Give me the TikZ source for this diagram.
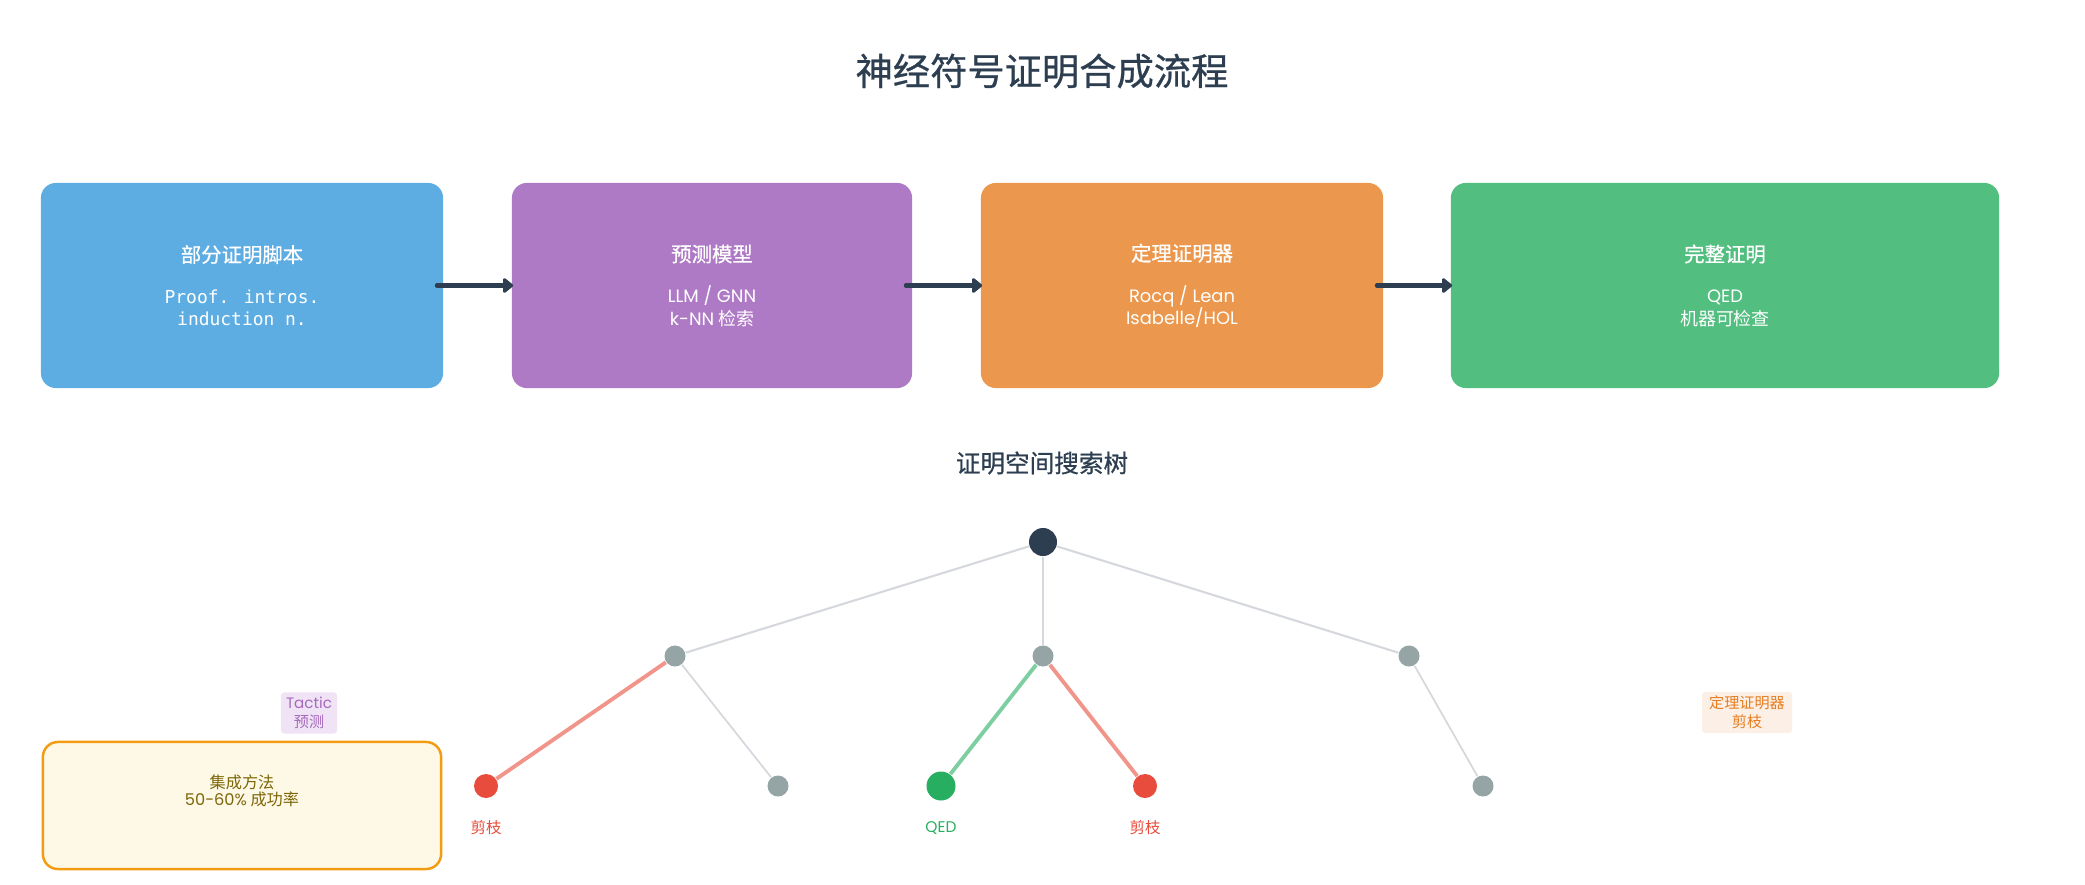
\documentclass[tikz,border=0pt]{standalone}
\usepackage{fontspec}
\setmainfont{Noto Sans CJK SC}
\newfontfamily\semifont{Noto Sans CJK SC}[FakeBold=0.7]
\newfontfamily\codefont{DejaVu Sans Mono}
\newfontfamily\latfont{Poppins}
\usetikzlibrary{arrows.meta}

\definecolor{ink}{HTML}{2C3E50}
\definecolor{scriptblue}{HTML}{5DADE2}
\definecolor{modelpurple}{HTML}{AF7AC5}
\definecolor{proverorange}{HTML}{EB984E}
\definecolor{qedgreen}{HTML}{52BE80}
\definecolor{nodegrey}{HTML}{95A5A6}
\definecolor{edgegrey}{HTML}{D5D8DC}
\definecolor{cutred}{HTML}{E74C3C}
\definecolor{cutedge}{HTML}{F1948A}
\definecolor{okgreen}{HTML}{27AE60}
\definecolor{okedge}{HTML}{7DCEA0}
\definecolor{notefill}{HTML}{FEF9E7}
\definecolor{noteline}{HTML}{F39C12}
\definecolor{notetext}{HTML}{7D6608}
\definecolor{tagpurple}{HTML}{F0E3F5}
\definecolor{tagpurpletext}{HTML}{A569BD}
\definecolor{tagorange}{HTML}{FCEFE6}
\definecolor{tagorangetext}{HTML}{E67E22}

\newcommand{\stagehead}{\fontsize{5.8}{6.3}\semifont\selectfont}

\tikzset{
  stage/.style={rounded corners=0.15cm, minimum height=2.05cm, inner sep=0pt,
    text=white, align=center, font=\fontsize{5.1}{6.3}\selectfont},
  flow/.style={-{Triangle[round, length=0.11cm, width=0.17cm]}, line width=1.15pt,
    line cap=round, draw=ink},
  tnode/.style={circle, inner sep=0pt},
  tedge/.style={draw=edgegrey, line width=0.5pt},
  tag/.style={rounded corners=0.03cm, inner sep=0pt, minimum height=0.41cm,
    align=center, font=\fontsize{4.3}{5.4}\selectfont}
}

\begin{document}
\begin{tikzpicture}[x=0.01cm,y=-0.01cm]
  \useasboundingbox (0,0) rectangle (2085,885);

  %Title
  \node[text=ink, font=\fontsize{10.6}{12}\semifont\selectfont] (title) at (1042,71) {神经符号证明合成流程};

  %Pipeline stages
  \node[stage, fill=scriptblue, minimum width=4.02cm] (script) at (242,285.5)
    {{\stagehead 部分证明脚本}\\[5.4pt]{\codefont Proof. intros.}\\{\codefont induction n.}};
  \node[stage, fill=modelpurple, minimum width=4.00cm] (model) at (712,285.5)
    {{\stagehead 预测模型}\\[5.4pt]{\latfont LLM / GNN}\\{\latfont k-NN} 检索};
  \node[stage, fill=proverorange, minimum width=4.02cm] (prover) at (1182,285.5)
    {{\stagehead 定理证明器}\\[5.4pt]{\latfont Rocq / Lean}\\{\latfont Isabelle/HOL}};
  \node[stage, fill=qedgreen, minimum width=5.48cm] (proof) at (1725,285.5)
    {{\stagehead 完整证明}\\[5.4pt]{\latfont QED}\\机器可检查};

  %Arrows between stages
  \draw[flow] ([xshift=-0.07cm]script.east) -- ([xshift=0.02cm]model.west);
  \draw[flow] ([xshift=-0.07cm]model.east) -- ([xshift=0.02cm]prover.west);
  \draw[flow] ([xshift=-0.07cm]prover.east) -- ([xshift=0.02cm]proof.west);

  %Search tree
  \node[text=ink, font=\fontsize{7}{8}\semifont\selectfont] (treetitle) at (1042,463) {证明空间搜索树};

  \node[tnode, fill=ink, minimum size=0.28cm] (root) at (1043,542) {};
  \node[tnode, fill=nodegrey, minimum size=0.21cm] (left) at (675,656) {};
  \node[tnode, fill=nodegrey, minimum size=0.21cm] (mid) at (1043,656) {};
  \node[tnode, fill=nodegrey, minimum size=0.21cm] (right) at (1409,656) {};
  \node[tnode, fill=cutred, minimum size=0.24cm] (cutA) at (486,786) {};
  \node[tnode, fill=nodegrey, minimum size=0.21cm] (openA) at (778,786) {};
  \node[tnode, fill=okgreen, minimum size=0.29cm] (qed) at (941,786) {};
  \node[tnode, fill=cutred, minimum size=0.24cm] (cutB) at (1145,786) {};
  \node[tnode, fill=nodegrey, minimum size=0.21cm] (openB) at (1483,786) {};

  \draw[tedge, line width=0.6pt] (root) -- (left);
  \draw[tedge, line width=0.3pt] (root) -- (mid);
  \draw[tedge, line width=0.6pt] (root) -- (right);
  \draw[draw=cutedge, line width=1.1pt] (left) -- (cutA);
  \draw[tedge] (left) -- (openA);
  \draw[draw=okedge, line width=1.1pt] (mid) -- (qed);
  \draw[draw=cutedge, line width=1.1pt] (mid) -- (cutB);
  \draw[tedge] (right) -- (openB);

  %Leaf labels
  \node[text=cutred, font=\fontsize{4.4}{5}\selectfont] (cutAlabel) at (486,828) {剪枝};
  \node[text=okgreen, font=\fontsize{4.4}{5}\selectfont\latfont] (qedlabel) at (941,828) {QED};
  \node[text=cutred, font=\fontsize{4.4}{5}\selectfont] (cutBlabel) at (1145,828) {剪枝};

  %Side notes
  \node[tag, fill=tagpurple, text=tagpurpletext, minimum width=0.56cm] (tactic) at (309,713)
    {{\latfont Tactic}\\预测};
  \node[tag, fill=tagorange, text=tagorangetext, minimum width=0.90cm] (pruning) at (1747,712.5)
    {定理证明器\\剪枝};

  \node[draw=noteline, fill=notefill, line width=0.7pt, rounded corners=0.15cm,
    minimum width=3.98cm, minimum height=1.27cm] (ensemble) at (242,805.5) {};
  \node[text=notetext, align=center, font=\fontsize{4.6}{5}\selectfont] (ensembletext) at (242,791)
    {集成方法\\{\latfont 50-60\%} 成功率};

\end{tikzpicture}
\end{document}
